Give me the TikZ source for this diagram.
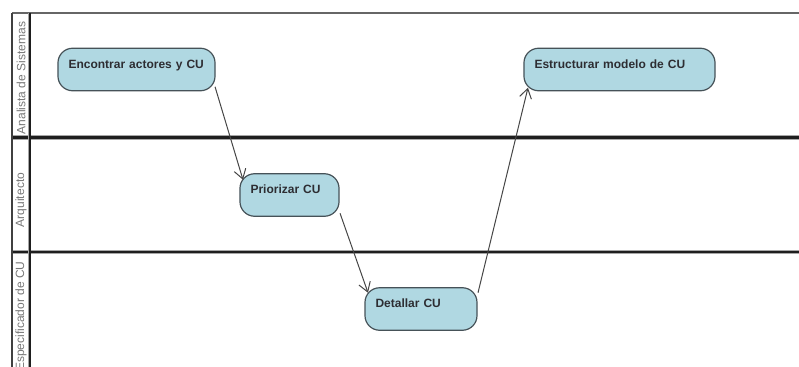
\documentclass[tikz,border=0pt]{standalone}
\usepackage{fontspec}
\setmainfont{Liberation Sans}
\usetikzlibrary{arrows.meta,calc}
\definecolor{actfill}{RGB}{176,216,226}
\definecolor{actdraw}{RGB}{70,82,88}
\definecolor{acttext}{RGB}{45,45,50}
\definecolor{lanetext}{RGB}{120,120,120}
\definecolor{laneline}{RGB}{30,30,30}
\definecolor{flowline}{RGB}{70,70,70}
\tikzset{
  activity/.style={draw=actdraw, line width=0.9pt, fill=actfill,
    rounded corners=11pt, outer sep=0pt, inner ysep=0pt, inner xsep=7.9pt,
    align=left, text height=15pt, text depth=16.9pt, text=acttext,
    font=\fontsize{9pt}{11pt}\selectfont\bfseries},
  lanelabel/.style={rotate=90, text=lanetext, inner sep=0pt,
    font=\fontsize{9pt}{11pt}\selectfont},
  sepline/.style={laneline, line width=1.7pt},
  halo/.style={black!35, line width=3.2pt},
  border/.style={laneline!85, line width=1.1pt},
  flow/.style={flowline, line width=0.75pt,
    -{Straight Barb[length=7pt,width=9pt,line width=0.75pt]}}
}
\begin{document}
\begin{tikzpicture}[x=0.75pt,y=-0.75pt]
\useasboundingbox (0,0) rectangle (799,367);

% swimlane frame
\draw[halo] (12,137.5) -- (799,137.5);
\draw[halo] (12,252) -- (799,252);
\draw[sepline] (12,137.5) -- (799,137.5);
\draw[sepline] (12,252) -- (799,252);
\draw[border, black!60, line width=1.4pt] (12,13) -- (799,13);
\draw[border] (12,13) -- (12,367);
\draw[halo, line width=2.8pt] (29.5,13) -- (29.5,367);
\draw[sepline, line width=1.5pt] (29.5,13) -- (29.5,367);

% lane titles
\node[lanelabel] (l1) at (21,78) {Analista de Sistemas};
\node[lanelabel] (l2) at (21,200) {Arquitecto};
\node[lanelabel] (l3) at (21,316) {Especificador de CU};

% activities
\node[activity, text width=102pt] (enc) at (136.5,69.5) {Encontrar actores y CU};
\node[activity, text width=58.5pt] (pri) at (289.5,195) {Priorizar CU};
\node[activity, text width=68.2pt] (det) at (421,309) {Detallar CU};
\node[activity, text width=127.5pt] (est) at (619.5,69.5) {Estructurar modelo de CU};

% transitions
\draw[flow] ($(enc.south east)+(0,-4)$) -- ($(pri.north west)+(3,6)$);
\draw[flow] ($(pri.south east)+(1,-3)$) -- ($(det.north west)+(3,5)$);
\draw[flow] ($(det.north east)+(1,5)$) -- ($(est.south west)+(4,-3)$);
\end{tikzpicture}
\end{document}
